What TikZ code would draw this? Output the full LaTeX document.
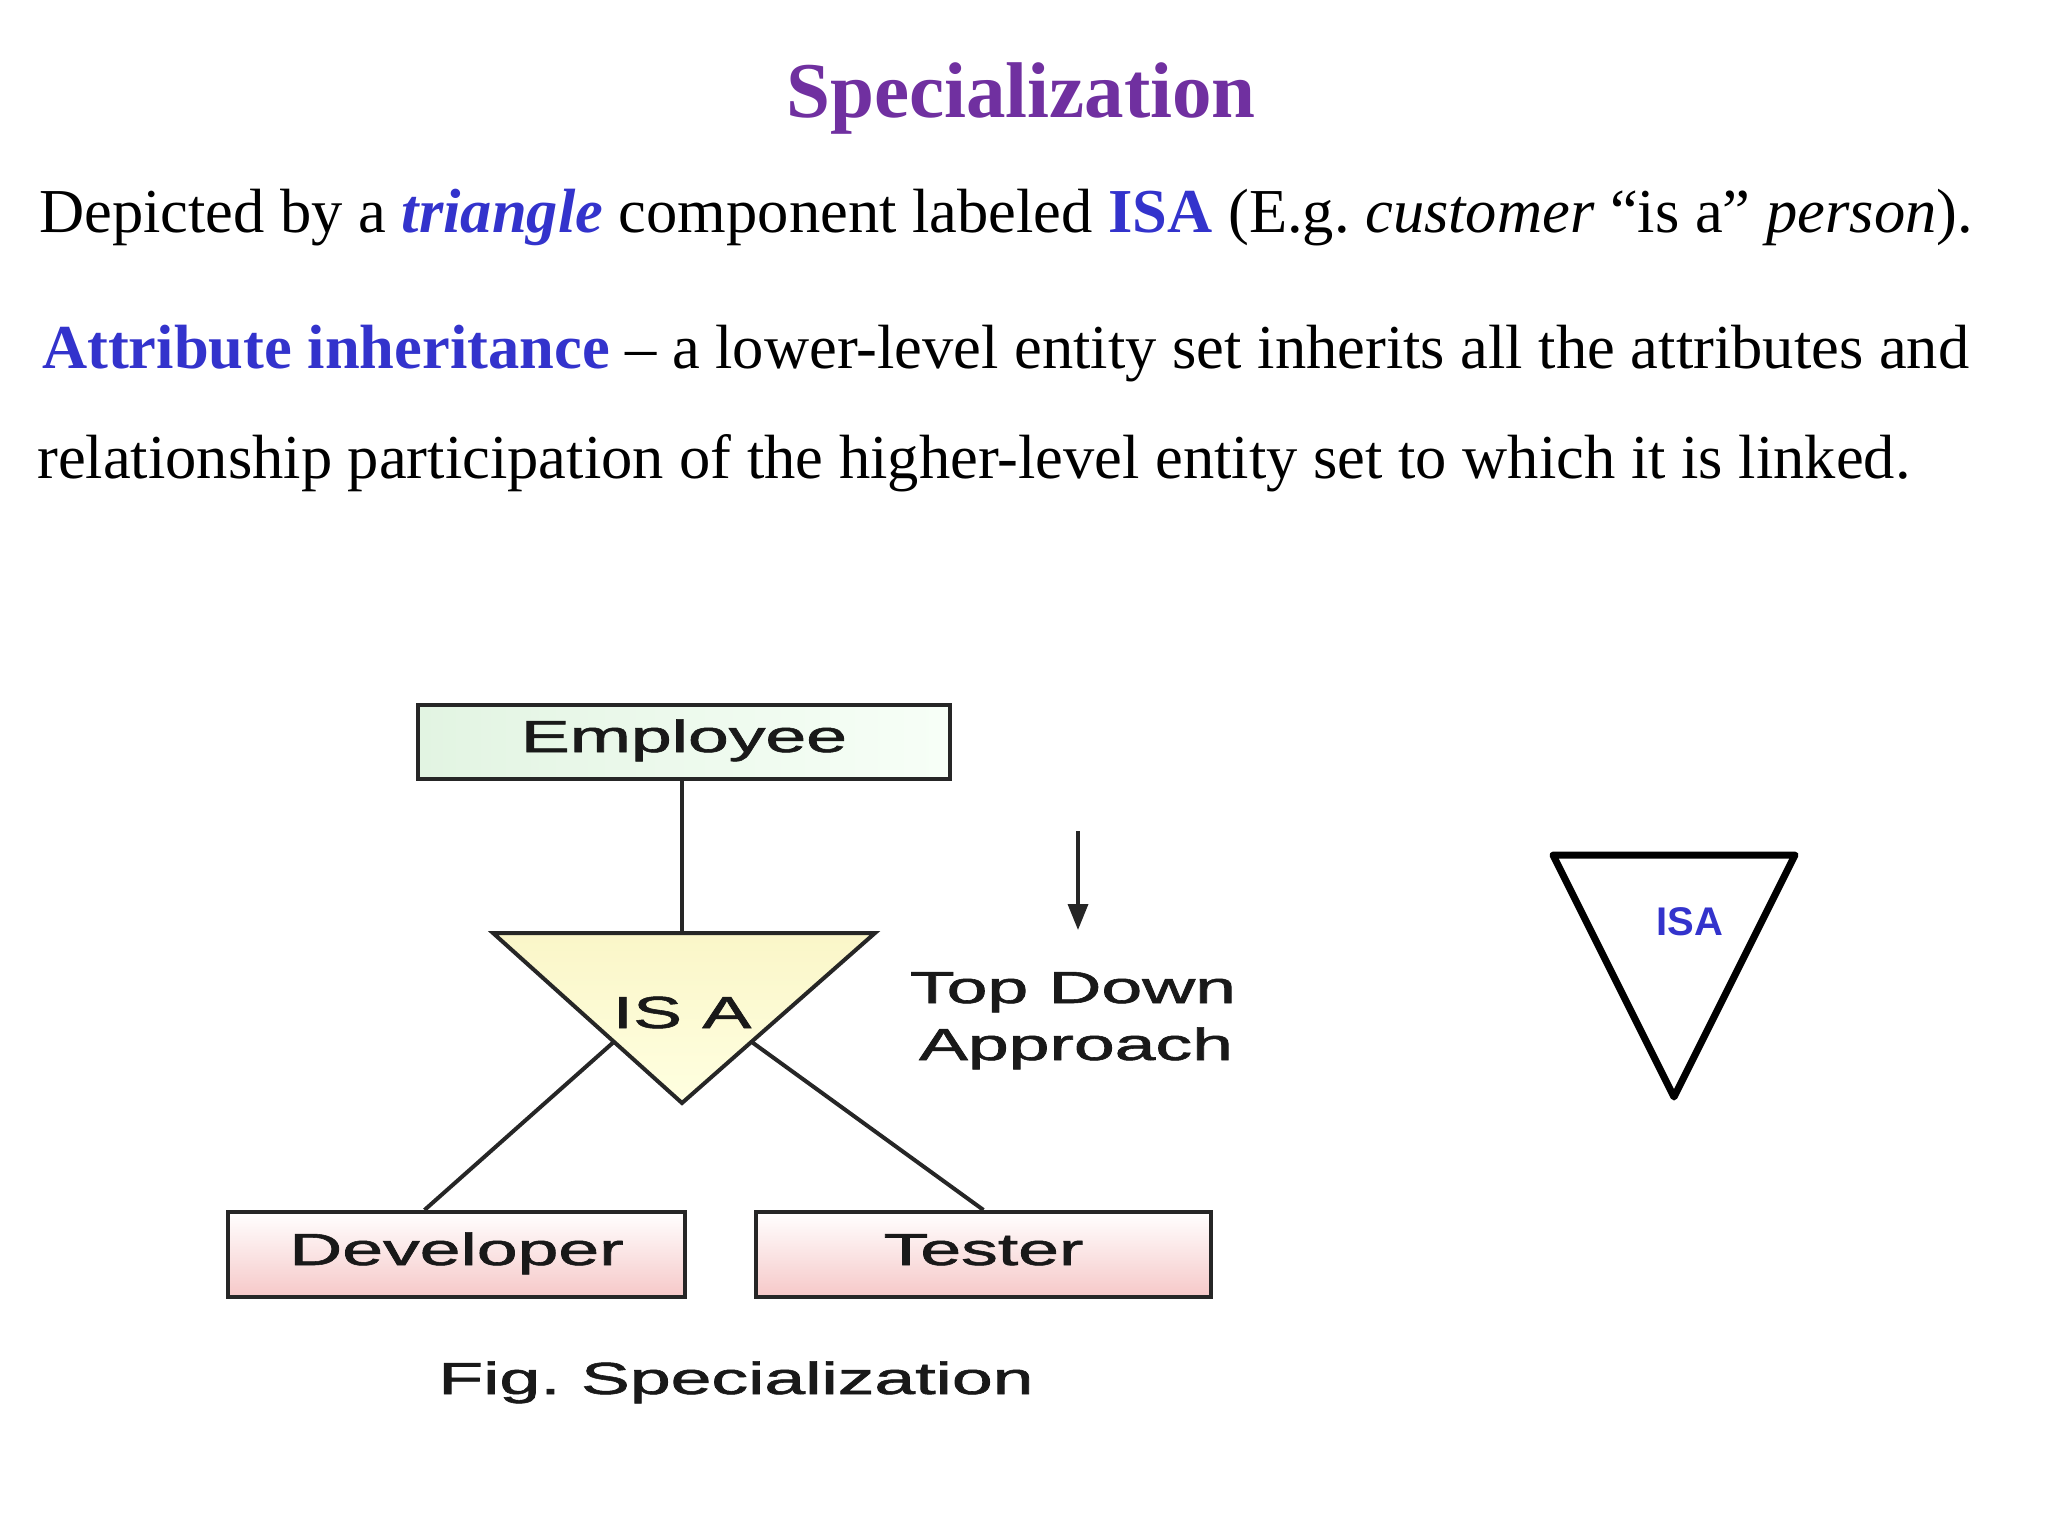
\documentclass[tikz,border=0pt]{standalone}
\usepackage{graphicx}
\usepackage{fontspec}
\setmainfont{Liberation Serif}
\newfontfamily\diafont{Liberation Sans}[FakeBold=1.2]
\newfontfamily\isafont{Liberation Sans}
\usetikzlibrary{arrows.meta,calc}
\definecolor{titlepurple}{RGB}{112,48,160}
\definecolor{kwblue}{RGB}{51,51,204}
\definecolor{entgreen}{RGB}{226,244,226}
\definecolor{entpink}{RGB}{246,200,200}
\definecolor{isayellow}{RGB}{250,246,200}
\newcommand\widetxt[1]{\scalebox{1.63}[1]{#1}}
\frenchspacing
\begin{document}
\begin{tikzpicture}[x=1pt,y=-1pt,
  bodyline/.style={anchor=base west, inner sep=0, font=\fontsize{62.5}{72}\selectfont},
  entity/.style={draw=black!85, line width=4, inner sep=0, text=black!90,
    text height=31, text depth=10, font=\diafont\fontsize{45}{54}\selectfont},
  dialabel/.style={inner sep=0, anchor=base, text=black!90, font=\diafont\fontsize{45}{54}\selectfont},
  link/.style={draw=black!85, line width=4}]
\useasboundingbox (0,0) rectangle (2048,1536);

% title and text
\node[anchor=base, inner sep=0, text=titlepurple, font=\bfseries\fontsize{79}{90}\selectfont] (title) at (1021,118) {Specialization};
\node[bodyline] (l1) at (39,232) {Depicted by a \textcolor{kwblue}{\textbf{\textit{triangle}}} component labeled \textcolor{kwblue}{\textbf{ISA}} (E.g. \textit{customer} “is a” \textit{person}).};
\node[bodyline] (l2) at (42,368) {\textcolor{kwblue}{\textbf{Attribute inheritance}} – a lower-level entity set inherits all the attributes and};
\node[bodyline] (l3) at (37,478) {relationship participation of the higher-level entity set to which it is linked.};

% entities
\node[entity, minimum width=532, minimum height=74, left color=entgreen, right color=green!3] (emp) at (684,741.5) {\widetxt{Employee}};
\node[entity, minimum width=457, minimum height=85, top color=white, bottom color=entpink] (dev) at (456.5,1254.5) {\widetxt{Developer}};
\node[entity, minimum width=455, minimum height=85, top color=white, bottom color=entpink] (tst) at (983.5,1254.5) {\widetxt{Tester}};

% ISA triangle
\coordinate (tl) at (493,933);
\coordinate (tr) at (875,933);
\coordinate (tb) at (682,1103);
\coordinate (tm) at (682,933);
\draw[draw=black!85, line width=4, line join=miter, top color=isayellow, bottom color=yellow!12]
  (tl) -- (tr) -- (tb) -- cycle;
\node[dialabel] (isa) at (682,1028) {\widetxt{IS A}};
\coordinate (le) at ($(tl)!0.64!(tb)$);
\coordinate (re) at ($(tr)!0.64!(tb)$);
\draw[link] (emp.south -| tm) -- (tm);
\draw[link] (le) -- ([xshift=-32]dev.north);
\draw[link] (re) -- (tst.north);

% top down
\coordinate (arrtop) at (1078,831);
\coordinate (arrend) at (1078,930);
\node[dialabel] (td1) at (1073,1003) {\widetxt{Top Down}};
\node[dialabel] (td2) at (1076,1060) {\widetxt{Approach}};
\draw[line width=3.5, draw=black!85, -{Triangle[length=26,width=20]}] (arrtop) -- (arrend);

% caption
\node[dialabel] (fig) at (736,1394) {\widetxt{Fig. Specialization}};

% right triangle
\draw[line width=7, line join=round] (1553,855) coordinate (rl) -- (1795,855) coordinate (rr) -- (1674,1097) coordinate (rb) -- cycle;
\node[inner sep=0, text=kwblue, font=\isafont\bfseries\fontsize{40}{48}\selectfont] (isa2) at (1690,922) {ISA};
\end{tikzpicture}
\end{document}
